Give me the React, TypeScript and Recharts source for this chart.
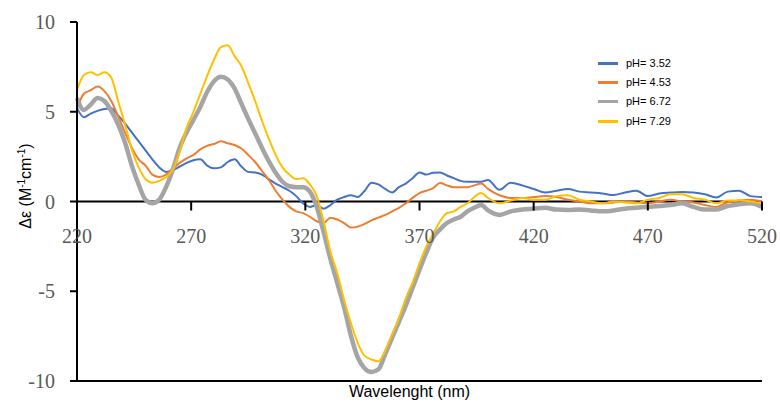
import React from "react";
import { LineChart, Line, XAxis, YAxis, ReferenceLine, Legend, Label } from "recharts";

const wavelengths = [
  220, 223, 226, 229, 232, 235, 238, 241, 244, 247, 250, 253, 256, 259, 262, 265, 268, 271, 274, 277,
  280, 283, 286, 289, 292, 295, 298, 301, 304, 307, 310, 313, 316, 319, 322, 325, 328, 331, 334, 337,
  340, 343, 346, 349, 352, 355, 358, 361, 364, 367, 370, 373, 376, 379, 382, 385, 388, 391, 394, 397,
  400, 405, 410, 415, 420, 425, 430, 435, 440, 445, 450, 455, 460, 465, 470, 475, 480, 485, 490, 495,
  500, 505, 510, 515, 520,
];

const ph352 = [
  5.2, 4.7, 4.9, 5.05, 5.15, 5.2, 4.8, 4.35, 3.85, 3.35, 2.85, 2.35, 1.9, 1.65, 1.75, 1.95, 2.15, 2.3, 2.35, 2.0,
  1.85, 1.9, 2.2, 2.35, 1.95, 1.65, 1.62, 1.5, 1.25, 1.0, 0.8, 0.6, 0.3, -0.1, -0.3, -0.2, -0.4, -0.2, 0.1, 0.25,
  0.35, 0.25, 0.6, 1.05, 0.95, 0.7, 0.5, 0.8, 1.0, 1.3, 1.62, 1.5, 1.6, 1.62, 1.45, 1.3, 1.15, 1.1, 1.1, 1.1,
  1.2, 0.65, 1.05, 0.9, 0.7, 0.5, 0.6, 0.7, 0.55, 0.5, 0.45, 0.36, 0.5, 0.6, 0.3, 0.45, 0.5, 0.53, 0.5, 0.4,
  0.22, 0.55, 0.6, 0.3, 0.25,
];

const ph453 = [
  5.2, 6.0, 6.2, 6.4, 6.15, 5.6, 4.75, 3.85, 3.0, 2.35, 2.0, 1.5, 1.37, 1.5, 1.85, 2.15, 2.4, 2.6, 2.9, 3.1,
  3.2, 3.35, 3.25, 3.15, 2.95, 2.6, 2.2, 1.7, 1.2, 0.6, 0.1, -0.3, -0.55, -0.65, -0.85, -1.1, -1.2, -0.9, -1.0, -1.2,
  -1.45, -1.4, -1.25, -1.05, -0.9, -0.75, -0.55, -0.35, -0.1, 0.2, 0.47, 0.6, 0.75, 1.03, 0.9, 0.8, 0.8, 0.8, 0.9, 1.0,
  0.7, 0.35, 0.2, 0.2, 0.25, 0.3, 0.25, 0.1, 0.0, -0.1, -0.1, -0.05, 0.0, -0.05, -0.1, 0.0, 0.1, 0.0, -0.05, -0.2,
  -0.3, -0.05, 0.05, 0.1, 0.0,
];

const ph672 = [
  5.77, 5.1, 5.4, 5.77, 5.6, 5.05, 4.3, 3.3, 2.0, 0.95, 0.1, -0.1, 0.1, 0.8, 1.8, 3.0, 3.85, 4.55, 5.27, 6.1,
  6.7, 6.95, 6.8, 6.3, 5.45, 4.6, 3.8, 3.0, 2.25, 1.6, 1.1, 0.85, 0.8, 0.8, 0.55, -0.3, -1.7, -3.2, -4.55, -5.9,
  -7.5, -8.7, -9.3, -9.5, -9.35, -8.5, -7.6, -6.7, -5.8, -4.8, -3.8, -2.85, -2.0, -1.55, -1.2, -1.0, -0.85, -0.55, -0.35, -0.2,
  -0.5, -0.75, -0.55, -0.45, -0.4, -0.35, -0.45, -0.47, -0.45, -0.5, -0.55, -0.5, -0.4, -0.35, -0.3, -0.25, -0.2, -0.1, -0.3, -0.45,
  -0.45, -0.25, -0.15, -0.1, -0.3,
];

const ph729 = [
  6.2, 7.05, 7.2, 7.05, 7.2, 6.9, 5.6, 4.3, 2.9, 1.9, 1.25, 1.05, 1.15, 1.35, 1.8, 2.8, 4.1, 5.0, 6.0, 7.0,
  7.9, 8.6, 8.7, 8.1, 7.55, 6.6, 5.6, 4.5, 3.5, 2.6, 1.9, 1.5, 1.25, 1.3, 0.95, 0.3, -1.1, -2.8, -4.0, -5.5,
  -6.8, -7.9, -8.6, -8.8, -8.9, -8.3, -7.4, -6.5, -5.4, -4.5, -3.45, -2.5, -1.8, -1.1, -0.65, -0.55, -0.3, -0.1, 0.25, 0.47,
  0.2, -0.1, 0.05, 0.2, 0.1, 0.1, 0.3, 0.35, 0.1, 0.0, -0.1, 0.0, -0.05, -0.1, 0.1, 0.2, 0.4, 0.4, 0.2, 0.1,
  -0.1, 0.05, 0.05, 0.0, -0.1,
];

const xTicks = [220, 270, 320, 370, 420, 470, 520];
const yTicks = [-10, -5, 0, 5, 10];

const series = [
  { key: "a", name: "pH= 3.52", color: "#4472C4", width: 2, values: ph352 },
  { key: "b", name: "pH= 4.53", color: "#ED7D31", width: 2, values: ph453 },
  { key: "c", name: "pH= 6.72", color: "#A5A5A5", width: 4.5, values: ph672 },
  { key: "d", name: "pH= 7.29", color: "#FFC000", width: 2, values: ph729 },
];

const data = wavelengths.map((w, i) => {
  const row: Record<string, number> = { w };
  series.forEach((s) => {
    row[s.key] = s.values[i];
  });
  return row;
});

const W = 780;
const H = 407;
const M = { top: 22, right: 18, bottom: 0, left: 17 };
const Y_AXIS_W = 60;
const X_AXIS_H = 26;
const PLOT_TOP = M.top;
const PLOT_H = H - M.top - M.bottom - X_AXIS_H;
const Y_MIN = -10;
const Y_MAX = 10;
const ZERO_Y = PLOT_TOP + ((Y_MAX - 0) / (Y_MAX - Y_MIN)) * PLOT_H;

const serif = "'Liberation Serif', 'DejaVu Serif', serif";
const sans = "'Liberation Sans', Arial, sans-serif";

const XTick = (props: any) => {
  const { x, payload } = props;
  return (
    <g>
      <line x1={x} x2={x} y1={ZERO_Y} y2={ZERO_Y + 9} stroke="#000" strokeWidth={2} />
      <text x={x} y={ZERO_Y + 41} textAnchor="middle" fill="#595959" fontFamily={serif} fontSize={20}>
        {payload.value}
      </text>
    </g>
  );
};

const YTitle = () => {
  const cx = 31;
  const cy = 186;
  return (
    <text
      x={cx}
      y={cy}
      transform={`rotate(-90, ${cx}, ${cy})`}
      textAnchor="middle"
      fontFamily={sans}
      fontSize={16}
      fill="#000"
    >
      <tspan>Δε (M</tspan>
      <tspan fontSize={10} dy={-6}>-1</tspan>
      <tspan dy={6}>cm</tspan>
      <tspan fontSize={10} dy={-6}>-1</tspan>
      <tspan dy={6}>)</tspan>
    </text>
  );
};

const XTitle = (props: any) => {
  const vb = props.viewBox || {};
  const cx = (vb.x ?? 77) + (vb.width ?? 685) / 2 - 10;
  return (
    <text x={cx} y={397} textAnchor="middle" fontFamily={sans} fontSize={16} fill="#000">
      Wavelenght (nm)
    </text>
  );
};

const LegendBox = () => (
  <div style={{ fontFamily: sans, fontSize: 11, color: "#000", lineHeight: 1 }}>
    {series.map((s) => (
      <div key={s.key} style={{ display: "flex", alignItems: "center", height: 19.2 }}>
        <span style={{ display: "inline-block", width: 20, height: 3, background: s.color, marginRight: 8 }} />
        <span>{s.name}</span>
      </div>
    ))}
  </div>
);

export default function App() {
  return (
    <div style={{ position: "absolute", left: 0, top: 0, width: W, height: H, background: "#fff" }}>
      <LineChart width={W} height={H} data={data} margin={M}>
        <XAxis
          dataKey="w"
          type="number"
          domain={[220, 520]}
          ticks={xTicks}
          interval={0}
          height={X_AXIS_H}
          axisLine={{ stroke: "#000", strokeWidth: 2 }}
          tickLine={false}
          tick={<XTick />}
        >
          <Label content={<XTitle />} />
        </XAxis>
        <XAxis
          xAxisId="top"
          orientation="top"
          dataKey="w"
          type="number"
          domain={[220, 520]}
          height={0}
          tick={false}
          tickLine={false}
          axisLine={{ stroke: "#000", strokeWidth: 2 }}
        />
        <YAxis
          type="number"
          domain={[Y_MIN, Y_MAX]}
          ticks={yTicks}
          interval={0}
          width={Y_AXIS_W}
          axisLine={{ stroke: "#000", strokeWidth: 2 }}
          tickLine={{ stroke: "#000", strokeWidth: 2 }}
          tickSize={7}
          tickMargin={15}
          tick={{ fill: "#595959", fontFamily: serif, fontSize: 20 }}
        >
          <Label content={<YTitle />} />
        </YAxis>
        <YAxis
          yAxisId="right"
          orientation="right"
          type="number"
          domain={[Y_MIN, Y_MAX]}
          width={0}
          tick={false}
          tickLine={false}
          axisLine={{ stroke: "#000", strokeWidth: 2 }}
        />
        <ReferenceLine y={0} stroke="#000" strokeWidth={2} />
        {series.map((s) => (
          <Line
            key={s.key}
            dataKey={s.key}
            name={s.name}
            stroke={s.color}
            strokeWidth={s.width}
            dot={false}
            activeDot={false}
            type="monotone"
            isAnimationActive={false}
          />
        ))}
        <Legend
          layout="vertical"
          align="center"
          verticalAlign="middle"
          wrapperStyle={{ left: 598, top: 54, width: 110, height: 80 }}
          content={<LegendBox />}
        />
      </LineChart>
    </div>
  );
}
